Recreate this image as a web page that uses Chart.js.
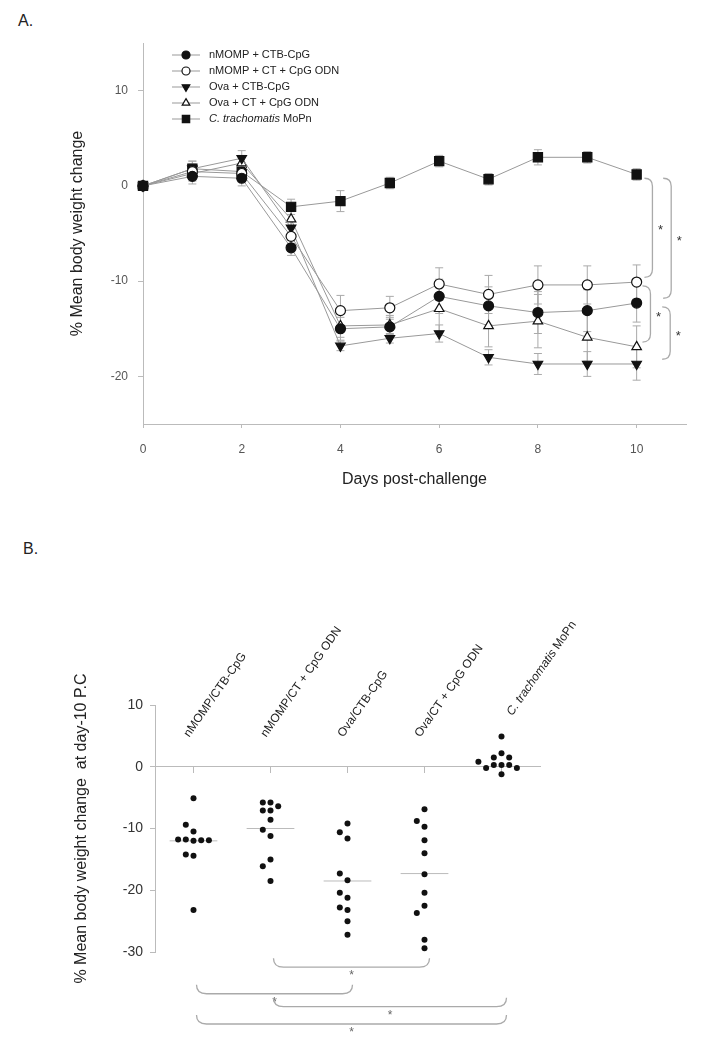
<!DOCTYPE html>
<html>
<head>
<meta charset="utf-8">
<script src="https://cdn.jsdelivr.net/npm/chart.js@4.4.1/dist/chart.umd.min.js"></script>
<style>
  body { margin: 0; background: #fff; width: 704px; height: 1049px; overflow: hidden; font-family: "Liberation Sans", Arial, sans-serif; }
  canvas { position: absolute; left: 0; }
  .tag { position: absolute; font-size: 16px; color: #222; }
</style>
</head>
<body>
<div class="tag" style="left:18px;top:12px">A.</div>
<div class="tag" style="left:23px;top:540px">B.</div>
<canvas id="chartA" width="704" height="515" style="top:0"></canvas>
<canvas id="chartB" width="704" height="534" style="top:515px"></canvas>
<script>
const FONT = '"Liberation Sans", Arial, sans-serif';

// panel A - mean weight change per day
const days = [0, 1, 2, 3, 4, 5, 6, 7, 8, 9, 10];
const dayTicks = [0, 2, 4, 6, 8, 10];
const weightTicks = [-20, -10, 0, 10];
const seriesNames = ["nMOMP + CTB-CpG", "nMOMP + CT + CpG ODN", "Ova + CTB-CpG", "Ova + CT + CpG ODN", "C. trachomatis MoPn"];
const nmompCtb = [0, 1.0, 0.8, -6.5, -15.0, -14.8, -11.6, -12.6, -13.3, -13.1, -12.3];
const nmompCt = [0, 1.5, 1.3, -5.3, -13.1, -12.8, -10.3, -11.4, -10.4, -10.4, -10.1];
const ovaCtb = [0, 1.8, 2.9, -4.4, -16.8, -16.0, -15.5, -18.0, -18.7, -18.7, -18.7];
const ovaCt = [0, 1.3, 2.4, -3.5, -14.7, -14.6, -12.9, -14.7, -14.2, -15.9, -16.9];
const moPn = [0, 1.8, 1.5, -2.2, -1.6, 0.3, 2.6, 0.7, 3.0, 3.0, 1.2];
// error bars (+/-)
const errNmompCtb = [0, 0.8, 0.8, 0.8, 1.2, 1.0, 1.8, 2.0, 2.2, 2.2, 2.0];
const errNmompCt = [0, 0.8, 0.8, 0.8, 1.6, 1.2, 1.7, 2.0, 2.0, 2.0, 1.8];
const errOvaCtb = [0, 0.8, 0.8, 0.8, 0.5, 0.5, 0.9, 0.8, 1.1, 1.3, 1.7];
const errOvaCt = [0, 0.8, 0.8, 0.8, 1.2, 1.0, 2.5, 2.2, 2.8, 2.5, 2.2];
const errMoPn = [0, 0.8, 0.8, 0.8, 1.1, 0.6, 0.6, 0.6, 0.8, 0.6, 0.6];

// panel B - individual mice at day 10
const groupNames = ["nMOMP/CTB-CpG", "nMOMP/CT + CpG ODN", "Ova/CTB-CpG", "Ova/CT + CpG ODN", "C. trachomatis MoPn"];
const day10NmompCtb = [-5.1, -10.5, -9.4, -12.0, -11.8, -11.9, -11.8, -11.9, -14.4, -14.2, -23.2];
const day10NmompCt = [-5.8, -5.8, -6.4, -7.1, -7.1, -8.6, -11.2, -10.2, -15.0, -16.1, -18.5];
const day10OvaCtb = [-9.2, -11.6, -10.6, -18.4, -17.3, -21.2, -20.4, -23.2, -22.8, -25.0, -27.2];
const day10OvaCt = [-6.9, -9.7, -8.8, -11.9, -14.0, -17.4, -20.4, -22.5, -23.7, -28.0, -29.4];
const day10MoPn = [4.9, 2.2, -1.2, 0.3, 0.3, 0.3, -0.2, -0.2, 0.8, 1.5, 1.5];
const groupMeans = [-12.0, -10.0, -18.5, -17.3, null];
const percentTicks = [-30, -20, -10, 0, 10];
const compFrom = [2, 1, 2, 1];
const compTo = [4, 3, 5, 5];

function drawRich(ctx, text, x, y, size) {
  const it = "C. trachomatis";
  let cx = x;
  if (text.startsWith(it)) {
    ctx.font = "italic " + size + "px " + FONT;
    ctx.fillText(it, cx, y);
    cx += ctx.measureText(it).width;
    text = text.slice(it.length);
  }
  ctx.font = size + "px " + FONT;
  ctx.fillText(text, cx, y);
}

// ---------- chart A ----------
const seriesA = [nmompCtb, nmompCt, ovaCtb, ovaCt, moPn];
const errorsA = [errNmompCtb, errNmompCt, errOvaCtb, errOvaCt, errMoPn];
const markA = [
  { pointStyle: "circle", bg: "#111", r: 5, rot: 0 },
  { pointStyle: "circle", bg: "#fff", r: 5, rot: 0 },
  { pointStyle: "triangle", bg: "#111", r: 5.5, rot: 180 },
  { pointStyle: "triangle", bg: "#fff", r: 5.5, rot: 0 },
  { pointStyle: "rect", bg: "#111", r: 6.5, rot: 0 }
];

const errorBars = {
  id: "errorBars",
  beforeDatasetsDraw(chart) {
    const { ctx, scales: { x, y } } = chart;
    ctx.save();
    ctx.strokeStyle = "#aaa";
    ctx.lineWidth = 1;
    chart.data.datasets.forEach((ds, i) => {
      const err = errorsA[i];
      ds.data.forEach((p, j) => {
        if (!err[j]) return;
        const px = x.getPixelForValue(p.x);
        const top = y.getPixelForValue(p.y + err[j]);
        const bot = y.getPixelForValue(p.y - err[j]);
        ctx.beginPath();
        ctx.moveTo(px, top); ctx.lineTo(px, bot);
        ctx.moveTo(px - 4, top); ctx.lineTo(px + 4, top);
        ctx.moveTo(px - 4, bot); ctx.lineTo(px + 4, bot);
        ctx.stroke();
      });
    });
    ctx.restore();
  }
};

const legendA = {
  id: "legendA",
  afterDraw(chart) {
    const ctx = chart.ctx;
    ctx.save();
    chart.data.datasets.forEach((ds, i) => {
      const y = 55 + i * 16;
      ctx.strokeStyle = "#999";
      ctx.lineWidth = 1;
      ctx.beginPath(); ctx.moveTo(172, y); ctx.lineTo(200, y); ctx.stroke();
      ctx.fillStyle = markA[i].bg;
      ctx.strokeStyle = "#111";
      ctx.lineWidth = 1.2;
      Chart.helpers.drawPoint(ctx, { pointStyle: markA[i].pointStyle, rotation: markA[i].rot, radius: markA[i].r * 0.8, borderWidth: 1.2 }, 186, y);
      ctx.fillStyle = "#222";
      ctx.textBaseline = "middle";
      drawRich(ctx, ds.label, 209, y, 11);
    });
    ctx.restore();
  }
};

// significance brackets right of day 10
const bracketsA = {
  id: "bracketsA",
  afterDatasetsDraw(chart) {
    const { ctx, scales: { x, y } } = chart;
    const last = days.length - 1;
    const pairs = [[moPn, nmompCt, 10.32], [moPn, nmompCtb, 10.7], [nmompCt, ovaCt, 10.28], [nmompCtb, ovaCtb, 10.68]];
    ctx.save();
    pairs.forEach(([a, b, xv]) => {
      const px = x.getPixelForValue(xv);
      const y1 = y.getPixelForValue(a[last] - 0.4);
      const y2 = y.getPixelForValue(b[last] + 0.5);
      ctx.strokeStyle = "#aaa";
      ctx.lineWidth = 1.3;
      ctx.beginPath();
      ctx.moveTo(px - 8, y1);
      ctx.quadraticCurveTo(px, y1, px, y1 + 8);
      ctx.lineTo(px, y2 - 8);
      ctx.quadraticCurveTo(px, y2, px - 8, y2);
      ctx.stroke();
      ctx.fillStyle = "#333";
      ctx.font = "13px " + FONT;
      ctx.textAlign = "center";
      ctx.textBaseline = "middle";
      ctx.fillText("*", px + 8, (y1 + y2) / 2 + 3);
    });
    ctx.restore();
  }
};

new Chart("chartA", {
  type: "scatter",
  data: {
    datasets: seriesA.map((vals, i) => ({
      label: seriesNames[i],
      data: vals.map((v, j) => ({ x: days[j], y: v })),
      showLine: true,
      borderColor: "#999",
      borderWidth: 1,
      pointStyle: markA[i].pointStyle,
      pointRotation: markA[i].rot,
      pointRadius: markA[i].r,
      pointBackgroundColor: markA[i].bg,
      pointBorderColor: "#111",
      pointBorderWidth: 1.2,
      clip: false
    }))
  },
  options: {
    responsive: false,
    animation: false,
    layout: { padding: { left: 68, right: 18, top: 43, bottom: 26 } },
    plugins: { legend: { display: false }, tooltip: { enabled: false } },
    scales: {
      x: {
        type: "linear", min: 0, max: 11,
        afterBuildTicks: s => { s.ticks = dayTicks.map(v => ({ value: v })); },
        afterFit: s => { s.height = 65; },
        border: { color: "#bbb" },
        grid: { drawOnChartArea: false, tickLength: 4, color: "#bbb" },
        ticks: { font: { size: 12, family: FONT }, color: "#555", padding: 14 },
        title: { display: true, text: "Days post-challenge", font: { size: 16, family: FONT }, color: "#222", padding: 0 }
      },
      y: {
        min: -25, max: 15,
        afterBuildTicks: s => { s.ticks = weightTicks.map(v => ({ value: v })); },
        afterFit: s => { s.width = 75; },
        border: { color: "#bbb" },
        grid: { drawOnChartArea: false, tickLength: 5, color: "#bbb" },
        ticks: { font: { size: 12, family: FONT }, color: "#555", padding: 10 },
        title: { display: true, text: "% Mean body weight change", font: { size: 16, family: FONT }, color: "#222", padding: 0 }
      }
    }
  },
  plugins: [errorBars, legendA, bracketsA]
});

// ---------- chart B ----------
const groupsB = [day10NmompCtb, day10NmompCt, day10OvaCtb, day10OvaCt, day10MoPn];

// simple bee swarm: points close in value move to side slots
function swarm(values, group) {
  const placed = [];
  return values.map(v => {
    for (const s of [0, -1, 1, -2, 2, -3, 3]) {
      if (!placed.some(p => p.s === s && Math.abs(p.v - v) < 1.2)) {
        placed.push({ s, v });
        return { x: group + s * 0.1, y: v };
      }
    }
  });
}

const labelsB = {
  id: "labelsB",
  afterDraw(chart) {
    const { ctx, scales: { x, y } } = chart;
    ctx.save();
    ctx.fillStyle = "#222";
    ctx.textBaseline = "middle";
    groupNames.forEach((name, i) => {
      const top = Math.max(...groupsB[i]);
      const lx = x.getPixelForValue(i + 1) + (top > 0 ? 8 : -7);
      const ly = y.getPixelForValue(Math.max(5, top + 3.6));
      ctx.save();
      ctx.translate(lx, ly);
      ctx.rotate(-55 * Math.PI / 180);
      drawRich(ctx, name, 0, 0, 12);
      ctx.restore();
    });
    // comparison brackets under the plot
    const levels = [-31.0, -35.3, -37.4, -40.2];
    compFrom.forEach((g1, k) => {
      const x1 = x.getPixelForValue(g1) + 3;
      const x2 = x.getPixelForValue(compTo[k]) + 5;
      const yt = y.getPixelForValue(levels[k]);
      const yb = yt + 9;
      ctx.strokeStyle = "#aaa";
      ctx.lineWidth = 1.3;
      ctx.beginPath();
      ctx.moveTo(x1, yt);
      ctx.quadraticCurveTo(x1, yb, x1 + 10, yb);
      ctx.lineTo(x2 - 10, yb);
      ctx.quadraticCurveTo(x2, yb, x2, yt);
      ctx.stroke();
      ctx.fillStyle = "#666";
      ctx.font = "12px " + FONT;
      ctx.textAlign = "center";
      ctx.fillText("*", (x1 + x2) / 2, yb + 9);
    });
    ctx.restore();
  }
};

const datasetsB = groupsB.map((vals, i) => ({
  data: swarm(vals, i + 1),
  pointRadius: 3,
  pointBackgroundColor: "#111",
  pointBorderWidth: 0,
  clip: false
}));
groupMeans.forEach((m, i) => {
  if (m === null) return;
  datasetsB.push({
    data: [{ x: i + 1 - 0.31, y: m }, { x: i + 1 + 0.31, y: m }],
    showLine: true,
    borderColor: "#bbb",
    borderWidth: 1,
    pointRadius: 0
  });
});

new Chart("chartB", {
  type: "scatter",
  data: { datasets: datasetsB },
  options: {
    responsive: false,
    animation: false,
    layout: { padding: { left: 72, right: 164, top: 190, bottom: 97 } },
    plugins: { legend: { display: false }, tooltip: { enabled: false } },
    scales: {
      x: {
        type: "linear", min: 0.5, max: 5.5,
        position: { y: 0 },
        afterBuildTicks: s => { s.ticks = groupNames.map((g, i) => ({ value: i + 1 })); },
        border: { color: "#bbb" },
        grid: { drawOnChartArea: false, tickLength: 6, color: "#bbb" },
        ticks: { display: false }
      },
      y: {
        min: -30, max: 10,
        afterBuildTicks: s => { s.ticks = percentTicks.map(v => ({ value: v })); },
        afterFit: s => { s.width = 83; },
        border: { color: "#bbb" },
        grid: { drawOnChartArea: false, tickLength: 5, color: "#bbb" },
        ticks: { font: { size: 14, family: FONT }, color: "#333", padding: 7 },
        title: { display: true, text: "% Mean body weight change  at day-10 P.C", font: { size: 16, family: FONT }, color: "#222", padding: 0 }
      }
    }
  },
  plugins: [labelsB]
});
</script>
</body>
</html>
